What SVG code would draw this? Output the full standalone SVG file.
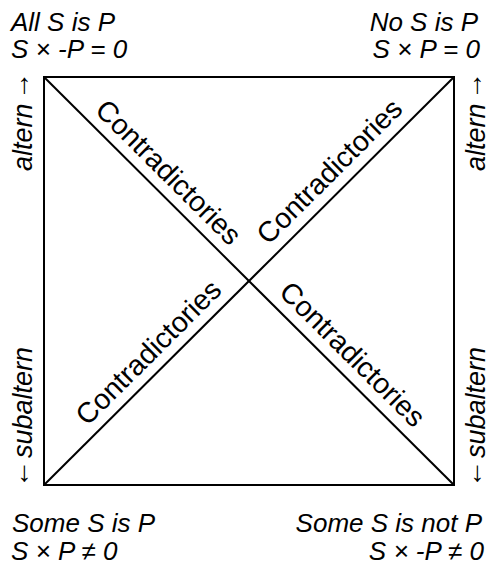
<svg xmlns="http://www.w3.org/2000/svg" width="492" height="566" viewBox="0 0 492 566">
<style>
.lbl{font-family:"Liberation Sans",Arial,sans-serif;font-style:italic;font-size:26px;fill:#000}
.side{font-family:"Liberation Sans",Arial,sans-serif;font-style:italic;font-size:27px;fill:#000}
.arr{font-style:normal;font-size:28px}
.diag{font-family:"Liberation Sans",Arial,sans-serif;font-size:28.5px;fill:#000}
.ln{stroke:#000;stroke-width:2;fill:none}
</style>
<rect width="492" height="566" fill="#fff"/>
<g id="connectors">
<rect class="ln" x="44" y="77" width="410" height="408"/>
<line class="ln" x1="44" y1="77" x2="454" y2="485"/>
<line class="ln" x1="44" y1="485" x2="454" y2="77"/>
</g>
<g id="node-A">
<text class="lbl" x="11" y="31">All S is P</text>
<text class="lbl" x="11" y="58">S × -P = 0</text>
</g>
<g id="node-E">
<text class="lbl" x="478" y="31" text-anchor="end">No S is P</text>
<text class="lbl" x="480" y="58" text-anchor="end">S × P = 0</text>
</g>
<g id="node-I">
<text class="lbl" x="12" y="532">Some S is P</text>
<text class="lbl" x="11" y="560">S × P ≠ 0</text>
</g>
<g id="node-O">
<text class="lbl" x="482" y="532" text-anchor="end">Some S is not P</text>
<text class="lbl" x="484" y="560" text-anchor="end">S × -P ≠ 0</text>
</g>
<g id="side-labels">
<text class="side" transform="translate(32,0) rotate(-90)"><tspan x="-171" y="0">altern</tspan><tspan class="arr" x="-100" y="-3">→</tspan></text>
<text class="side" transform="translate(485,0) rotate(-90)"><tspan x="-171" y="0">altern</tspan><tspan class="arr" x="-100" y="-3">→</tspan></text>
<text class="side" transform="translate(32,0) rotate(-90)"><tspan class="arr" x="-488" y="-3">←</tspan><tspan x="-458" y="0">subaltern</tspan></text>
<text class="side" transform="translate(485,0) rotate(-90)"><tspan class="arr" x="-488" y="-3">←</tspan><tspan x="-458" y="0">subaltern</tspan></text>
</g>
<g id="diag-labels">
<text class="diag" transform="translate(154,187) rotate(44.86)" x="0" y="-11" text-anchor="middle">Contradictories</text>
<text class="diag" transform="translate(344,186) rotate(-44.86)" x="0" y="-11" text-anchor="middle">Contradictories</text>
<text class="diag" transform="translate(163,367) rotate(-44.86)" x="0" y="-11" text-anchor="middle">Contradictories</text>
<text class="diag" transform="translate(338,369) rotate(44.86)" x="0" y="-11" text-anchor="middle">Contradictories</text>
</g>
</svg>
